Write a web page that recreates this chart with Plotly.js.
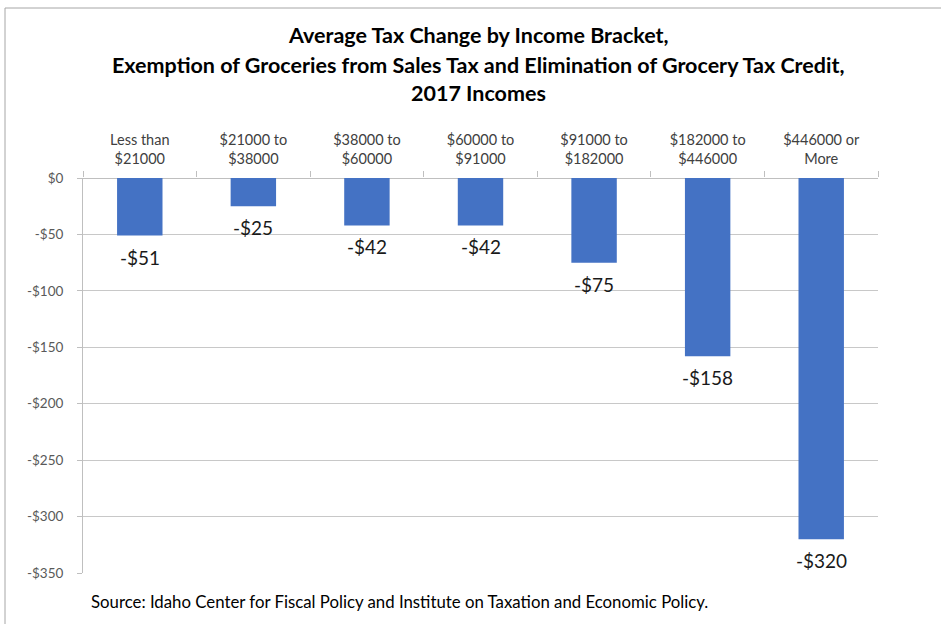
<!DOCTYPE html>
<html>
<head>
<meta charset="utf-8">
<script src="https://cdn.plot.ly/plotly-3.0.1.min.js"></script>
<style>html,body{margin:0;padding:0;background:#fff;}#chart{width:941px;height:624px;}</style>
</head>
<body>
<div id="chart"></div>
<script>
const categories = ["Less than<br>$21000", "$21000 to<br>$38000", "$38000 to<br>$60000", "$60000 to<br>$91000", "$91000 to<br>$182000", "$182000 to<br>$446000", "$446000 or<br>More"];
const taxChange = [-51, -25, -42, -42, -75, -158, -320];
const yTickVals = [0, -50, -100, -150, -200, -250, -300, -350];
const yTickText = ["$0", "-$50", "-$100", "-$150", "-$200", "-$250", "-$300", "-$350"];
const titleLines = ["Average Tax Change by Income Bracket,", "Exemption of Groceries from Sales Tax and Elimination of Grocery Tax Credit,", "2017 Incomes"];
const sourceText = "Source: Idaho Center for Fiscal Policy and Institute on Taxation and Economic Policy.";
const labels = taxChange.map(v => "-$" + Math.abs(v));

const FONT = "Lato, 'Open Sans', sans-serif";

const trace = {
  type: "bar",
  x: categories,
  y: taxChange,
  marker: {color: "#4472C4"},
  hoverinfo: "none"
};

const L = 83, R = 878, T = 178, B = 573;
const px = x => (x - L) / (R - L);
const py = y => (B - y) / (B - T);

const annotations = [];
taxChange.forEach((v, i) => {
  annotations.push({
    x: categories[i], y: v, xref: "x", yref: "y",
    text: labels[i], showarrow: false,
    xanchor: "center", yanchor: "top", yshift: -8,
    font: {family: FONT, size: 19, color: "#1a1a1a"}
  });
});
const titleY = [35, 65, 93];
titleLines.forEach((t, i) => {
  annotations.push({
    text: "<b>" + t + "</b>", xref: "paper", yref: "paper",
    x: px(478), y: py(titleY[i]), xanchor: "center", yanchor: "middle",
    showarrow: false,
    font: {family: FONT, size: 21.5, color: "#000000"}
  });
});
annotations.push({
  text: sourceText,
  xref: "paper", yref: "paper",
  x: px(89), y: py(601), xanchor: "left", yanchor: "middle",
  showarrow: false,
  font: {family: FONT, size: 16.8, color: "#000000"}
});

const layout = {
  width: 941, height: 624,
  margin: {l: L, r: 941 - R, t: T, b: 624 - B, pad: 0},
  paper_bgcolor: "#ffffff", plot_bgcolor: "#ffffff",
  showlegend: false,
  bargap: 0.6,
  xaxis: {
    side: "top",
    type: "category",
    tickson: "boundaries",
    ticks: "outside", ticklen: 6, tickcolor: "#bfbfbf",
    ticklabelstandoff: 10,
    showline: false,
    showgrid: false,
    tickfont: {family: FONT, size: 14.5, color: "#404040"},
    fixedrange: true
  },
  yaxis: {
    range: [-350, 0],
    tickvals: yTickVals, ticktext: yTickText,
    showline: true, linecolor: "#bfbfbf", linewidth: 1,
    ticks: "outside", ticklen: 5, tickcolor: "#bfbfbf",
    ticklabelstandoff: 11,
    showgrid: true, gridcolor: "#c8c8c8", gridwidth: 1,
    zeroline: true, zerolinecolor: "#bfbfbf", zerolinewidth: 1,
    tickfont: {family: FONT, size: 13.5, color: "#595959"},
    fixedrange: true
  },
  annotations: annotations,
  shapes: [{
    type: "rect", xref: "paper", yref: "paper",
    x0: px(5), x1: px(960), y0: py(640), y1: py(8),
    line: {color: "#a6a6a6", width: 1}, layer: "below"
  }]
};

Plotly.newPlot("chart", [trace], layout, {displayModeBar: false, staticPlot: true});
</script>
</body>
</html>
